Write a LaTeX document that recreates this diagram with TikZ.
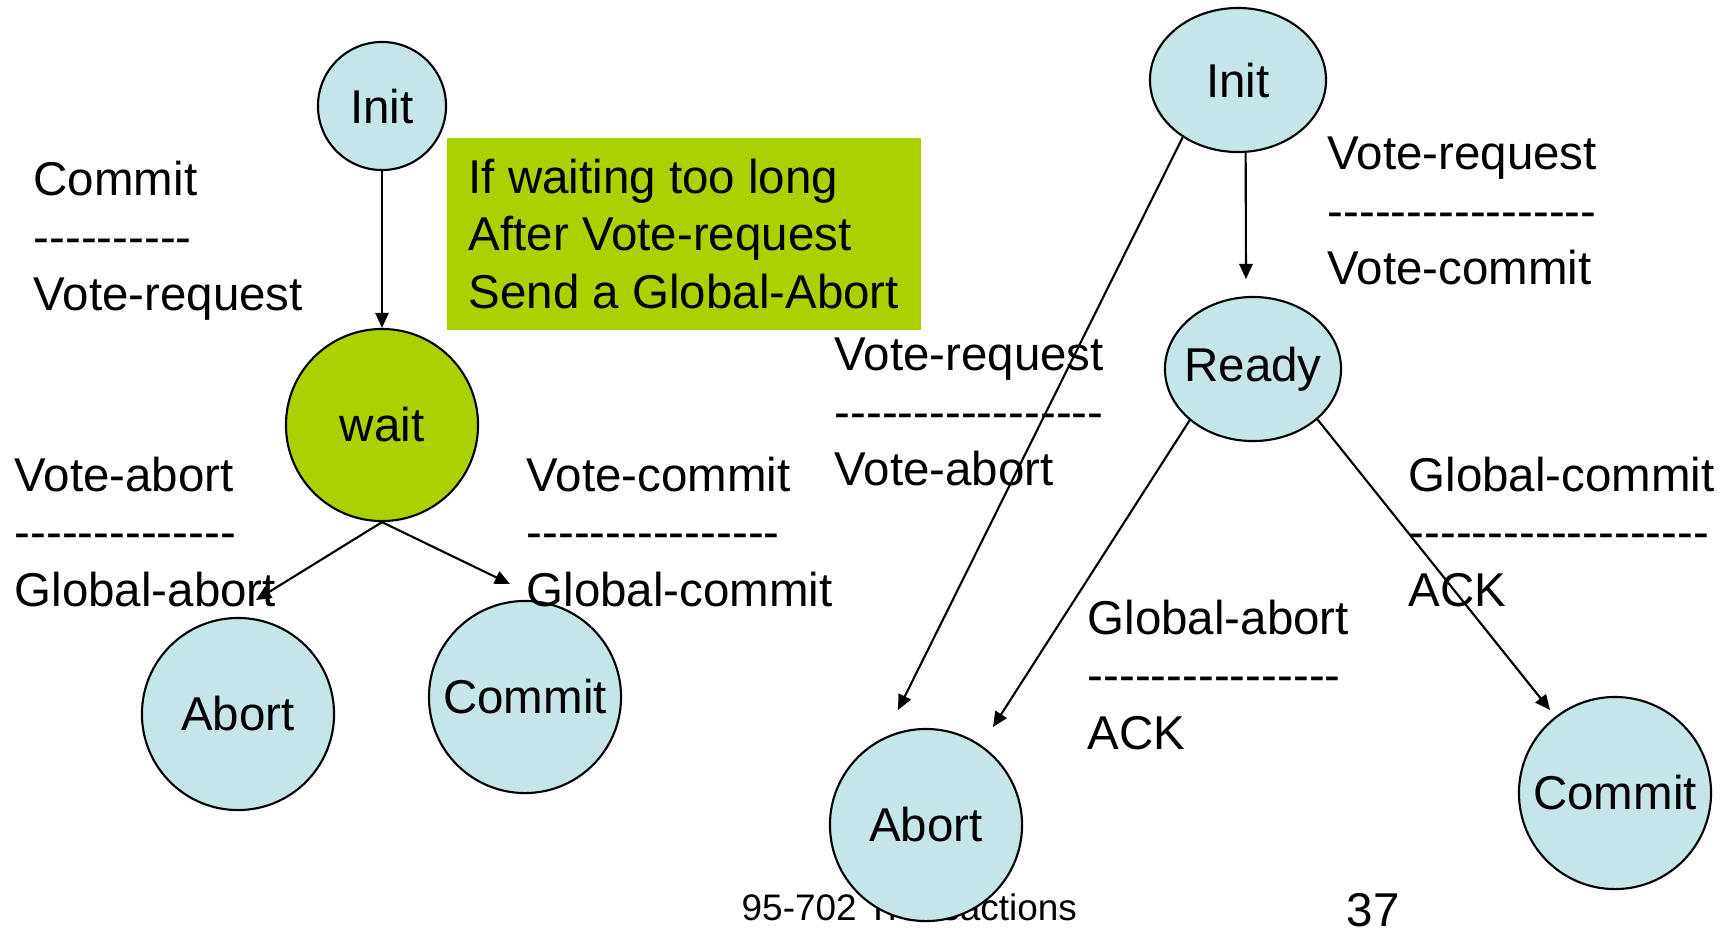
\documentclass[tikz,border=0pt]{standalone}
\usepackage{fontspec}
\setmainfont{Liberation Sans}
\usetikzlibrary{arrows.meta,shapes.geometric}
\definecolor{cyanl}{HTML}{C5E5E8}
\definecolor{limeg}{HTML}{AAD200}
\newcommand\dsh[1]{\foreach \i in {1,...,#1}{-}}
\tikzset{
  state/.style={circle,draw=black,fill=cyanl,line width=0.6pt,minimum size=1.92cm,inner sep=0pt,font=\fontsize{13.5}{16.3}\selectfont},
  statee/.style={ellipse,draw=black,fill=cyanl,line width=0.6pt,minimum width=1.76cm,minimum height=1.44cm,inner xsep=-0.1cm,inner ysep=0pt,font=\fontsize{13.5}{16.3}\selectfont},
  arr/.style={-{Triangle[length=4.3pt,width=3.8pt]},black,line width=0.6pt},
  lbl/.style={anchor=west,align=left,inner sep=0pt,font=\fontsize{13.5}{16.3}\selectfont},
  hint/.style={fill=limeg,align=left,inner xsep=0pt,inner ysep=0pt,minimum width=4.74cm,minimum height=1.92cm,font=\fontsize{13.5}{16.3}\selectfont},
}
\begin{document}
\begin{tikzpicture}[x=0.01cm,y=-0.01cm]
  \useasboundingbox (0,0) rectangle (1727,932);
  \node[anchor=west,inner sep=0pt,font=\fontsize{10.5}{12.6}\selectfont] (foot) at (741,907) {95-702 Transactions};
  \node[anchor=west,inner sep=0pt,font=\fontsize{13.5}{16.3}\selectfont] (pnum) at (1346,910) {37};
  \node[hint,anchor=north west] (note) at (446,137) {If waiting too long\\After Vote-request\\Send a Global-Abort};
  \node[state,minimum size=1.28cm] (initL) at (382,106) {Init};
  \node[state,fill=limeg] (waitL) at (382,425) {wait};
  \node[state] (abortL) at (238,714) {Abort};
  \node[state] (commitL) at (525,697) {Commit};
  \node[statee] (initR) at (1238,80) {Init};
  \node[statee] (readyR) at (1253,369) {Ready};
  \node[state] (abortR) at (926,825) {Abort};
  \node[state] (commitR) at (1615,793) {Commit};
  \coordinate (wA) at (256,600);
  \coordinate (wC) at (510,584);
  \coordinate (rIn) at (1246,279);
  \coordinate (aIn1) at (898,710);
  \coordinate (aIn2) at (993,727);
  \coordinate (cIn) at (1550,710);
  \draw[arr] (initL) -- (waitL);
  \draw[arr] (waitL.south) -- (wA);
  \draw[arr] (waitL.south) -- (wC);
  \draw[arr] (initR.-84) -- (rIn);
  \draw[arr] (initR.-134) -- (aIn1);
  \draw[arr] (readyR.-141) -- (aIn2);
  \draw[arr] (readyR.-38) -- (cIn);
  \node[lbl] (lCR) at (33,241) {Commit\\\dsh{10}\\Vote-request};
  \node[lbl] (lVA) at (14,532) {Vote-abort\\\dsh{14}\\Global-abort};
  \node[lbl] (lVC) at (526,532) {Vote-commit\\\dsh{16}\\Global-commit};
  \node[lbl] (lVRA) at (834,412) {Vote-request\\\dsh{17}\\Vote-abort};
  \node[lbl] (lVRC) at (1327,211) {Vote-request\\\dsh{17}\\Vote-commit};
  \node[lbl] (lGC) at (1408,532) {Global-commit\\\dsh{19}\\ACK};
  \node[lbl] (lGA) at (1087,675) {Global-abort\\\dsh{16}\\ACK};
\end{tikzpicture}
\end{document}
